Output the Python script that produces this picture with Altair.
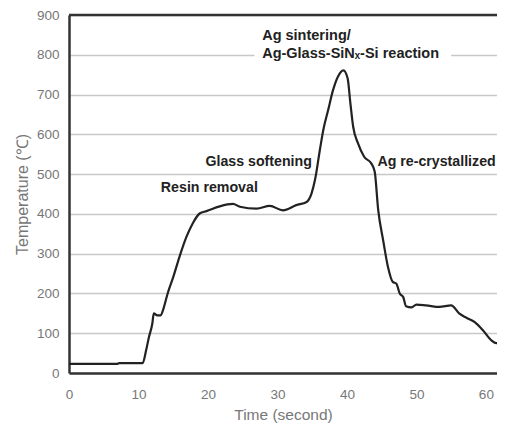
import altair as alt
import pandas as pd

# Series
time_s = [0, 7, 7.2, 10.6, 11.1, 11.5, 12.0, 12.2, 12.7, 13.2, 13.6, 14.2, 15.0, 15.9,
          16.9, 17.8, 18.8, 19.8, 21.7, 23.6, 24.6, 27.0, 28.9, 30.8, 32.7, 34.2, 34.9,
          35.4, 36.1, 36.6, 37.3, 38.0, 38.7, 39.5, 40.1, 40.5, 40.9, 41.6, 42.5, 43.5,
          44.0, 44.5, 45.2, 45.9, 46.6, 47.1, 47.6, 48.1, 48.5, 49.3, 50.0, 51.4, 53.3,
          55.0, 56.2, 57.2, 58.4, 59.6, 60.8, 61.5, 62.7]
temp_c = [23, 23, 25, 25, 57, 90, 125, 150, 145, 145, 162, 200, 241, 292,
          342, 376, 401, 407, 419, 425, 418, 413, 420, 409, 422, 430, 451,
          485, 560, 611, 661, 711, 745, 761, 741, 678, 619, 577, 543, 527,
          506, 410, 335, 267, 229, 225, 200, 191, 168, 165, 172, 170, 166,
          170, 149, 139, 128, 107, 82, 75, 75]

# Annotations
ann_text = ["Resin removal", "Glass softening", "Ag re-crystallized"]
ann_t = [20.2, 27.3, 52.9]
ann_T = [465, 531, 531]

top_text = ["Ag sintering/", "Ag-Glass-SiNₓ-Si reaction"]
top_t = [27.8, 27.8]
top_T = [847, 801]

box_t = [26.7]
box_t2 = [55.0]
box_T = [778]
box_T2 = [824]

x_ticks = [0, 10, 20, 30, 40, 50, 60]
y_ticks = [0, 100, 200, 300, 400, 500, 600, 700, 800, 900]
x_max = 61.6
y_max = 900

df = pd.DataFrame({"t": time_s, "T": temp_c})
ann = pd.DataFrame({"t": ann_t, "T": ann_T, "label": ann_text})
top = pd.DataFrame({"t": top_t, "T": top_T, "label": top_text})
box = pd.DataFrame({"t": box_t, "t2": box_t2, "T": box_T, "T2": box_T2})
border = pd.DataFrame({"T": [y_max]})

xscale = alt.Scale(domain=[0, x_max], nice=False, zero=False)
yscale = alt.Scale(domain=[0, y_max], nice=False)

x_axis = alt.Axis(values=x_ticks, grid=False, ticks=False, domainColor="#333333",
                  domainWidth=2.5, labelColor="#777777", labelFontSize=13.5,
                  labelFont="Liberation Sans", labelPadding=14, labelOverlap=False,
                  labelFlush=False,
                  title="Time (second)", titleFont="Liberation Sans",
                  titleFontSize=15.5, titleFontWeight="normal", titleColor="#777777",
                  titlePadding=7)
y_axis = alt.Axis(values=y_ticks, grid=True, gridColor="#c8c8c8", gridWidth=1.6,
                  ticks=False, domainColor="#333333", domainWidth=2.5,
                  labelColor="#777777", labelFontSize=13.5, labelFont="Liberation Sans",
                  labelPadding=10, labelOverlap=False, labelFlush=False,
                  title="Temperature (℃)", titleFont="Liberation Sans",
                  titleFontSize=16, titleFontWeight="normal", titleColor="#777777",
                  titlePadding=6)

X = lambda f: alt.X(f, scale=xscale, axis=x_axis)
Y = lambda f: alt.Y(f, scale=yscale, axis=y_axis)

line = alt.Chart(df).mark_line(color="#222222", strokeWidth=2.2, clip=True,
                               interpolate="monotone").encode(
    x=X("t:Q"), y=Y("T:Q"),
)

top_rule = alt.Chart(border).mark_rule(color="#333333", strokeWidth=2.5).encode(
    y=Y("T:Q")
)

white_box = alt.Chart(box).mark_rect(color="white").encode(
    x=X("t:Q"), x2="t2:Q", y=Y("T:Q"), y2="T2:Q",
)

ann_marks = alt.Chart(ann).mark_text(font="Liberation Sans", fontSize=14.2,
                                     fontWeight="bold", color="#222222",
                                     align="center", baseline="middle").encode(
    x=X("t:Q"), y=Y("T:Q"), text="label:N"
)

top_marks = alt.Chart(top).mark_text(font="Liberation Sans", fontSize=14.5,
                                     fontWeight="bold", color="#222222",
                                     align="left", baseline="middle").encode(
    x=X("t:Q"), y=Y("T:Q"), text="label:N"
)

chart = alt.layer(line, top_rule, white_box, ann_marks, top_marks).properties(
    width=428, height=358,
    autosize=alt.AutoSizeParams(type="none"),
    padding={"left": 61, "top": 7, "right": 0, "bottom": 54},
    background="white",
).configure_view(stroke=None)

chart.save("out.html", embed_options={"renderer": "svg", "actions": False})
